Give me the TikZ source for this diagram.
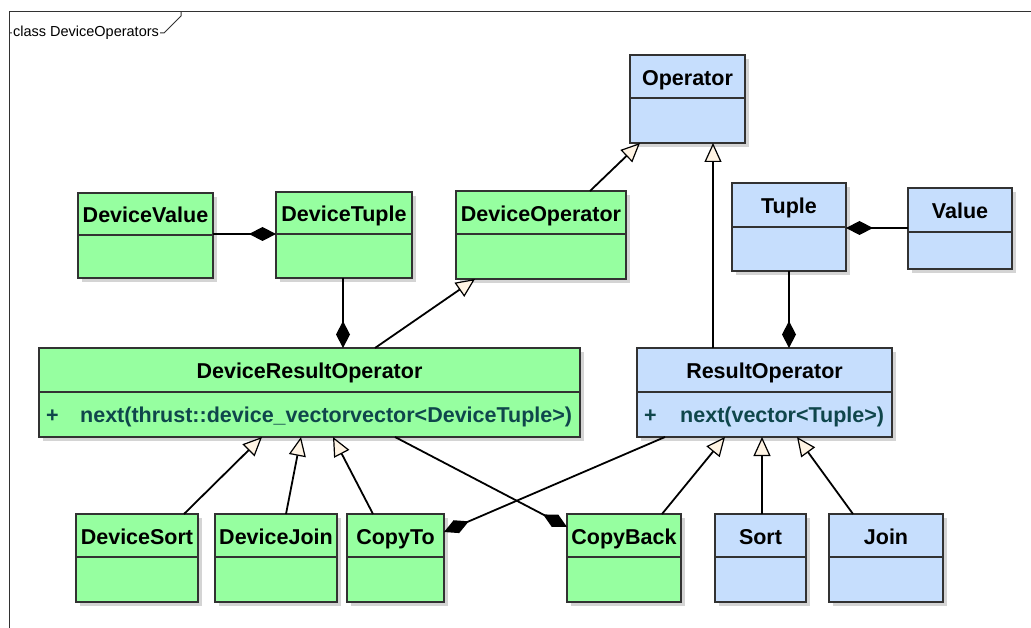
\documentclass[tikz,border=0pt]{standalone}
\usepackage{fontspec}
\setmainfont{Liberation Sans}
\usetikzlibrary{arrows.meta,calc}

\definecolor{devgreen}{RGB}{150,255,160}
\definecolor{baseblue}{RGB}{198,222,253}
\definecolor{tipcream}{RGB}{255,244,228}
\definecolor{opteal}{RGB}{15,70,75}
\definecolor{framegray}{RGB}{50,50,50}

% one UML class: name, left, top, right, bottom, divider, fill, title
\newcommand\umlclass[8]{%
  \fill[boxshadow] (#2+4,#3+4) rectangle (#4+4,#5+4);
  \node[classbox, fill=#7, minimum width={(#4-#2)*1pt}, minimum height={(#5-#3)*1pt}] (#1) at (#2,#3) {};
  \draw[boxline] (#2,#6) -- (#4,#6);
  \node[classtitle] (#1-title) at ({(#2+#4)/2},{(#3+#6)/2+1}) {#8};
}

\begin{document}
\begin{tikzpicture}[x=1pt,y=-1pt,
  classbox/.style={draw=framegray, line width=1.1pt, inner sep=0pt, outer sep=0pt, anchor=north west},
  boxline/.style={draw=framegray, line width=1.1pt},
  boxshadow/.style={fill=black!17},
  classtitle/.style={font=\fontsize{21.5}{24}\selectfont\bfseries, inner sep=0pt, text height=15.4pt, text depth=0pt, anchor=center},
  member/.style={font=\fontsize{21.5}{24}\selectfont\bfseries, text=opteal, inner sep=0pt, text height=15.4pt, text depth=0pt, anchor=west},
  inherit/.style={line width=1.8pt, -{Triangle[length=19pt,width=17pt,fill=tipcream,line width=1.2pt]}},
  compose/.style={line width=1.8pt, -{Diamond[length=27pt,width=14pt]}},
]
\useasboundingbox (0,0) rectangle (1031,628);
\fill[white] (0,0) rectangle (1031,628);

% diagram frame with its name tab
\draw[framegray, line width=1pt] (9,628) -- (9,12) -- (1031,12);
\draw[framegray, line width=1pt] (9,33) -- (164,33) -- (181,16) -- (181,12);
\node[fill=white, inner sep=0.6pt, font=\fontsize{14.5}{16}\selectfont] (framename) at (86,33) {class DeviceOperators};

% classes
\umlclass{operator}{630}{55}{745}{143}{98}{baseblue}{Operator}
\umlclass{devvalue}{78}{193}{213}{278}{235}{devgreen}{DeviceValue}
\umlclass{devtuple}{276}{192}{412}{278}{234}{devgreen}{DeviceTuple}
\umlclass{devop}{456}{191}{626}{279}{234}{devgreen}{DeviceOperator}
\umlclass{tuple}{732}{183}{846}{271}{227}{baseblue}{Tuple}
\umlclass{value}{908}{188}{1012}{269}{232}{baseblue}{Value}
\umlclass{devresult}{39}{348}{580}{437}{392}{devgreen}{DeviceResultOperator}
\umlclass{result}{637}{348}{892}{437}{392}{baseblue}{ResultOperator}
\umlclass{devsort}{76}{514}{198}{602}{557}{devgreen}{DeviceSort}
\umlclass{devjoin}{215}{514}{337}{602}{557}{devgreen}{DeviceJoin}
\umlclass{copyto}{347}{514}{444}{602}{557}{devgreen}{CopyTo}
\umlclass{copyback}{567}{514}{681}{602}{557}{devgreen}{CopyBack}
\umlclass{sort}{715}{514}{806}{602}{557}{baseblue}{Sort}
\umlclass{join}{829}{514}{943}{602}{557}{baseblue}{Join}

% operations
\node[member] (devresult-vis) at (46,415) {+};
\node[member] (devresult-op) at (80,415) {next(thrust::device\_vectorvector<DeviceTuple>)};
\node[member] (result-vis) at (644,415) {+};
\node[member] (result-op) at (680,415) {next(vector<Tuple>)};

% generalisations
\draw[inherit] ($(devop.north west)+(134,0)$) -- ($(operator.south west)+(10,0)$);
\draw[inherit] ($(result.north west)+(76,0)$) -- ($(operator.south west)+(83,0)$);
\draw[inherit] ($(devresult.north west)+(336,0)$) -- ($(devop.south west)+(19,0)$);
\draw[inherit] ($(devsort.north west)+(108,0)$) -- ($(devresult.south west)+(223,0)$);
\draw[inherit] ($(devjoin.north west)+(71,0)$) -- ($(devresult.south west)+(262,0)$);
\draw[inherit] ($(copyto.north west)+(26,0)$) -- ($(devresult.south west)+(294,0)$);
\draw[inherit] ($(copyback.north west)+(95,0)$) -- ($(result.south west)+(88,0)$);
\draw[inherit] ($(sort.north west)+(47,0)$) -- ($(result.south west)+(125,0)$);
\draw[inherit] ($(join.north west)+(24,0)$) -- ($(result.south west)+(160,0)$);

% compositions
\draw[compose] ($(devvalue.north east)+(0,41)$) -- ($(devtuple.north west)+(0,42)$);
\draw[compose] ($(value.north west)+(0,40)$) -- ($(tuple.north east)+(0,45)$);
\draw[compose] ($(devtuple.south west)+(67,0)$) -- ($(devresult.north west)+(304,0)$);
\draw[compose] ($(tuple.south west)+(57,0)$) -- ($(result.north west)+(152,0)$);
\draw[compose] ($(result.south west)+(28,0)$) -- ($(copyto.north east)+(0,18)$);
\draw[compose] ($(devresult.south west)+(356,0)$) -- ($(copyback.north west)+(0,13)$);
\end{tikzpicture}
\end{document}
